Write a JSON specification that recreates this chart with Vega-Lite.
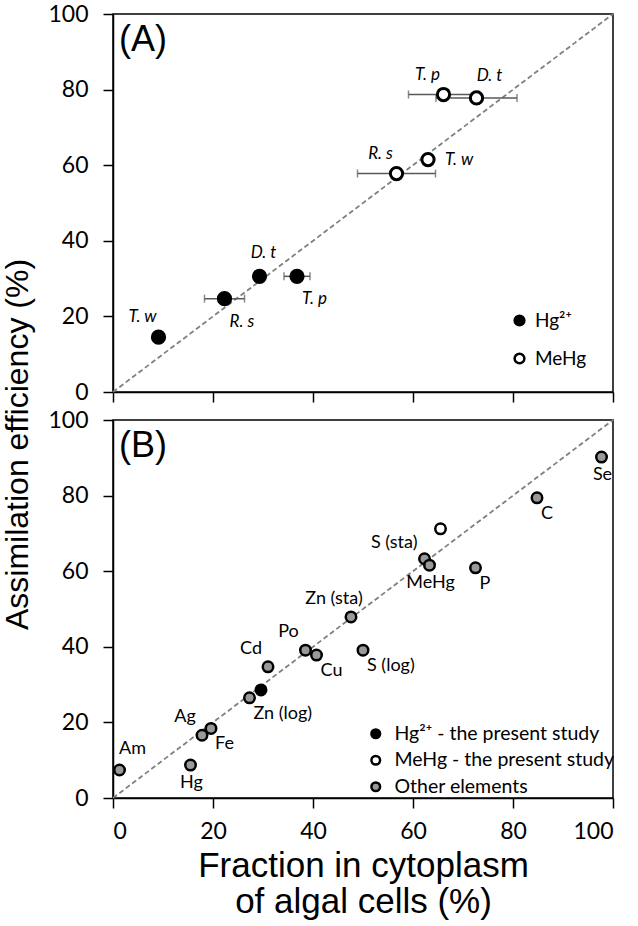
{
  "$schema": "https://vega.github.io/schema/vega-lite/v6.json",
  "background": "white",
  "padding": {"left": 0, "top": 2, "right": 0, "bottom": 0},
  "config": {
    "font": "Lato",
    "view": {"stroke": "black", "strokeWidth": 1.5},
    "axis": {"domainColor": "black", "domainWidth": 1.5, "tickColor": "black", "tickWidth": 1.5, "tickSize": 10, "grid": false, "labelFont": "Lato", "labelFontSize": 23, "labelColor": "black", "titleColor": "black", "labelPadding": 12},
    "axisY": {"labelPadding": 15}
  },
  "datasets": {
    "diag": [{"v": 0}, {"v": 100}],
    "panelA": [{"label": "(A)"}],
    "panelB": [{"label": "(B)"}],
    "a": [
      {"sp": "T. p", "type": "MeHg", "x": 66.1, "y": 78.7, "xerr": 7.0, "pos": "tl"},
      {"sp": "D. t", "type": "MeHg", "x": 72.7, "y": 77.8, "xerr": 8.1, "pos": "tr"},
      {"sp": "R. s", "type": "MeHg", "x": 56.7, "y": 57.8, "xerr": 7.8, "pos": "tl"},
      {"sp": "T. w", "type": "MeHg", "x": 63.0, "y": 61.5, "xerr": 0, "pos": "r"},
      {"sp": "T. w", "type": "Hg", "x": 9.1, "y": 14.5, "xerr": 0, "pos": "tl"},
      {"sp": "R. s", "type": "Hg", "x": 22.3, "y": 24.7, "xerr": 4.0, "pos": "br"},
      {"sp": "D. t", "type": "Hg", "x": 29.3, "y": 30.6, "xerr": 0, "pos": "t"},
      {"sp": "T. p", "type": "Hg", "x": 36.8, "y": 30.6, "xerr": 2.6, "pos": "br"}
    ],
    "b": [
      {"name": "", "type": "Hg", "x": 29.6, "y": 28.6, "pos": "none"},
      {"name": "", "type": "MeHg", "x": 65.5, "y": 71.2, "pos": "none"},
      {"name": "Se", "type": "Other", "x": 97.7, "y": 90.2, "pos": "b"},
      {"name": "C", "type": "Other", "x": 84.8, "y": 79.4, "pos": "br"},
      {"name": "S (sta)", "type": "Other", "x": 62.3, "y": 63.3, "pos": "l"},
      {"name": "MeHg", "type": "Other", "x": 63.3, "y": 61.6, "pos": "b"},
      {"name": "P", "type": "Other", "x": 72.5, "y": 60.9, "pos": "br"},
      {"name": "Zn (sta)", "type": "Other", "x": 47.6, "y": 47.9, "pos": "tl"},
      {"name": "Po", "type": "Other", "x": 38.5, "y": 39.1, "pos": "tl"},
      {"name": "Cu", "type": "Other", "x": 40.7, "y": 37.8, "pos": "br"},
      {"name": "S (log)", "type": "Other", "x": 50.0, "y": 39.1, "pos": "br"},
      {"name": "Cd", "type": "Other", "x": 31.0, "y": 34.7, "pos": "tl"},
      {"name": "Zn (log)", "type": "Other", "x": 27.3, "y": 26.5, "pos": "br"},
      {"name": "Ag", "type": "Other", "x": 17.8, "y": 16.6, "pos": "tl"},
      {"name": "Fe", "type": "Other", "x": 19.6, "y": 18.4, "pos": "br"},
      {"name": "Hg", "type": "Other", "x": 15.5, "y": 8.7, "pos": "b"},
      {"name": "Am", "type": "Other", "x": 1.3, "y": 7.4, "pos": "tr"}
    ]
  },
  "spacing": 28,
  "bounds": "flush",
  "resolve": {"scale": {"fill": "independent"}, "legend": {"fill": "independent"}},
  "vconcat": [
    {
      "width": 500,
      "height": 378,
      "layer": [
        {
          "data": {"name": "diag"},
          "mark": {"type": "line", "color": "#808080", "strokeDash": [5, 3], "strokeWidth": 1.8},
          "encoding": {
            "x": {"field": "v", "type": "quantitative", "scale": {"domain": [0, 100], "nice": false}, "axis": {"values": [0, 20, 40, 60, 80, 100], "labels": false, "title": null}},
            "y": {"field": "v", "type": "quantitative", "scale": {"domain": [0, 100], "nice": false}, "axis": {"values": [0, 20, 40, 60, 80, 100], "title": null}}
          }
        },
        {
          "data": {"name": "panelA"},
          "mark": {"type": "text", "align": "left", "baseline": "alphabetic", "dx": 6, "dy": 37, "font": "Liberation Sans", "fontSize": 36, "color": "black"},
          "encoding": {"x": {"datum": 0, "type": "quantitative"}, "y": {"datum": 100, "type": "quantitative"}, "text": {"field": "label"}}
        },
        {
          "data": {"name": "a"},
          "transform": [{"filter": "datum.xerr > 0"}],
          "mark": {"type": "errorbar", "ticks": {"size": 8, "thickness": 1.5, "color": "#595959"}, "rule": {"strokeWidth": 1.5, "color": "#595959"}},
          "encoding": {
            "x": {"field": "x", "type": "quantitative"},
            "xError": {"field": "xerr"},
            "y": {"field": "y", "type": "quantitative"}
          }
        },
        {
          "data": {"name": "a"},
          "mark": {"type": "point", "filled": true, "shape": "circle", "size": 150, "stroke": "black", "strokeWidth": 3, "opacity": 1},
          "encoding": {
            "x": {"field": "x", "type": "quantitative"},
            "y": {"field": "y", "type": "quantitative"},
            "fill": {"field": "type", "type": "nominal", "scale": {"domain": ["Hg", "MeHg"], "range": ["black", "white"]},
              "legend": {"title": null, "orient": "none", "legendX": 397, "legendY": 297, "symbolType": "circle", "symbolSize": 95, "symbolStrokeColor": "black", "symbolStrokeWidth": 2.5, "labelFontSize": 19, "labelFont": "Lato", "labelColor": "black", "labelOffset": 6, "labelLimit": 0, "rowPadding": 17, "padding": 0, "labelExpr": "datum.label == 'Hg' ? 'Hg²⁺' : datum.label"}}
          }
        },
        {
          "data": {"name": "a"},
          "transform": [{"filter": "datum.pos == 'tl'"}],
          "mark": {"type": "text", "align": "center", "baseline": "middle", "dx": -16, "dy": -20, "fontStyle": "italic", "fontSize": 17, "font": "Lato", "color": "black"},
          "encoding": {"x": {"field": "x", "type": "quantitative"}, "y": {"field": "y", "type": "quantitative"}, "text": {"field": "sp"}}
        },
        {
          "data": {"name": "a"},
          "transform": [{"filter": "datum.pos == 'tr'"}],
          "mark": {"type": "text", "align": "center", "baseline": "middle", "dx": 13, "dy": -22, "fontStyle": "italic", "fontSize": 17, "font": "Lato", "color": "black"},
          "encoding": {"x": {"field": "x", "type": "quantitative"}, "y": {"field": "y", "type": "quantitative"}, "text": {"field": "sp"}}
        },
        {
          "data": {"name": "a"},
          "transform": [{"filter": "datum.pos == 't'"}],
          "mark": {"type": "text", "align": "center", "baseline": "middle", "dx": 4, "dy": -23, "fontStyle": "italic", "fontSize": 17, "font": "Lato", "color": "black"},
          "encoding": {"x": {"field": "x", "type": "quantitative"}, "y": {"field": "y", "type": "quantitative"}, "text": {"field": "sp"}}
        },
        {
          "data": {"name": "a"},
          "transform": [{"filter": "datum.pos == 'r'"}],
          "mark": {"type": "text", "align": "left", "baseline": "middle", "dx": 17, "dy": 0, "fontStyle": "italic", "fontSize": 17, "font": "Lato", "color": "black"},
          "encoding": {"x": {"field": "x", "type": "quantitative"}, "y": {"field": "y", "type": "quantitative"}, "text": {"field": "sp"}}
        },
        {
          "data": {"name": "a"},
          "transform": [{"filter": "datum.pos == 'br'"}],
          "mark": {"type": "text", "align": "left", "baseline": "middle", "dx": 5, "dy": 23, "fontStyle": "italic", "fontSize": 17, "font": "Lato", "color": "black"},
          "encoding": {"x": {"field": "x", "type": "quantitative"}, "y": {"field": "y", "type": "quantitative"}, "text": {"field": "sp"}}
        }
      ]
    },
    {
      "width": 500,
      "height": 378,
      "layer": [
        {
          "data": {"name": "diag"},
          "mark": {"type": "line", "color": "#808080", "strokeDash": [5, 3], "strokeWidth": 1.8},
          "encoding": {
            "x": {"field": "v", "type": "quantitative", "scale": {"domain": [0, 100], "nice": false},
              "axis": {"values": [0, 20, 40, 60, 80, 100], "title": ["Fraction in cytoplasm", "of algal cells (%)"], "titleFont": "Liberation Sans", "titleFontSize": 35, "titleFontWeight": "normal", "titleLineHeight": 36, "titlePadding": 5}},
            "y": {"field": "v", "type": "quantitative", "scale": {"domain": [0, 100], "nice": false},
              "axis": {"values": [0, 20, 40, 60, 80, 100], "title": "Assimilation efficiency (%)", "titleFont": "Liberation Sans", "titleFontSize": 32, "titleFontWeight": "normal", "titleAngle": -90, "titleAlign": "center", "titleBaseline": "alphabetic", "titleX": -86, "titleY": 24}}
          }
        },
        {
          "data": {"name": "panelB"},
          "mark": {"type": "text", "align": "left", "baseline": "alphabetic", "dx": 6, "dy": 37, "font": "Liberation Sans", "fontSize": 36, "color": "black"},
          "encoding": {"x": {"datum": 0, "type": "quantitative"}, "y": {"datum": 100, "type": "quantitative"}, "text": {"field": "label"}}
        },
        {
          "data": {"name": "b"},
          "mark": {"type": "point", "filled": true, "shape": "circle", "size": 110, "stroke": "black", "strokeWidth": 2.5, "opacity": 1},
          "encoding": {
            "x": {"field": "x", "type": "quantitative"},
            "y": {"field": "y", "type": "quantitative"},
            "fill": {"field": "type", "type": "nominal", "scale": {"domain": ["Hg", "MeHg", "Other"], "range": ["black", "white", "#999999"]},
              "legend": {"title": null, "orient": "none", "legendX": 253, "legendY": 304, "symbolType": "circle", "symbolSize": 75, "symbolStrokeColor": "black", "symbolStrokeWidth": 2.5, "labelFontSize": 19.5, "labelFont": "Lato", "labelColor": "black", "labelOffset": 9, "labelLimit": 0, "rowPadding": 5.5, "padding": 0, "labelExpr": "datum.label == 'Hg' ? 'Hg²⁺   - the present study' : datum.label == 'MeHg' ? 'MeHg - the present study' : 'Other elements'"}}
          }
        },
        {
          "data": {"name": "b"},
          "transform": [{"filter": "datum.pos == 'b'"}],
          "mark": {"type": "text", "align": "center", "baseline": "middle", "dx": 1, "dy": 18, "fontSize": 18, "font": "Lato", "color": "black"},
          "encoding": {"x": {"field": "x", "type": "quantitative"}, "y": {"field": "y", "type": "quantitative"}, "text": {"field": "name"}}
        },
        {
          "data": {"name": "b"},
          "transform": [{"filter": "datum.pos == 'br'"}],
          "mark": {"type": "text", "align": "left", "baseline": "middle", "dx": 4, "dy": 16, "fontSize": 18, "font": "Lato", "color": "black"},
          "encoding": {"x": {"field": "x", "type": "quantitative"}, "y": {"field": "y", "type": "quantitative"}, "text": {"field": "name"}}
        },
        {
          "data": {"name": "b"},
          "transform": [{"filter": "datum.pos == 'tl'"}],
          "mark": {"type": "text", "align": "center", "baseline": "middle", "dx": -17, "dy": -18, "fontSize": 18, "font": "Lato", "color": "black"},
          "encoding": {"x": {"field": "x", "type": "quantitative"}, "y": {"field": "y", "type": "quantitative"}, "text": {"field": "name"}}
        },
        {
          "data": {"name": "b"},
          "transform": [{"filter": "datum.pos == 'l'"}],
          "mark": {"type": "text", "align": "right", "baseline": "middle", "dx": -7, "dy": -16, "fontSize": 18, "font": "Lato", "color": "black"},
          "encoding": {"x": {"field": "x", "type": "quantitative"}, "y": {"field": "y", "type": "quantitative"}, "text": {"field": "name"}}
        },
        {
          "data": {"name": "b"},
          "transform": [{"filter": "datum.pos == 'tr'"}],
          "mark": {"type": "text", "align": "center", "baseline": "middle", "dx": 13, "dy": -21, "fontSize": 18, "font": "Lato", "color": "black"},
          "encoding": {"x": {"field": "x", "type": "quantitative"}, "y": {"field": "y", "type": "quantitative"}, "text": {"field": "name"}}
        }
      ]
    }
  ]
}
